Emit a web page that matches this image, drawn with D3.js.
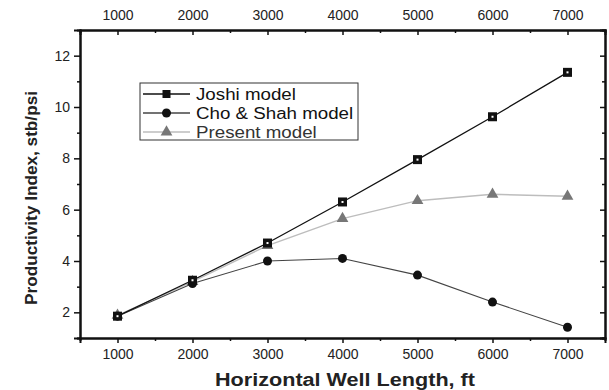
<!DOCTYPE html>
<html>
<head>
<meta charset="utf-8">
<script src="https://cdn.jsdelivr.net/npm/d3@7"></script>
<style>
  body { margin: 0; background: #fff; }
  text { font-family: "Liberation Sans", Arial, sans-serif; }
</style>
</head>
<body>
<div id="chart"></div>
<script>
// well lengths, ft
const lengths = [1000, 2000, 3000, 4000, 5000, 6000, 7000];
const joshi = [1.85, 3.25, 4.7, 6.3, 7.95, 9.62, 11.35];
const choShah = [1.85, 3.12, 4.0, 4.1, 3.45, 2.4, 1.42];
const present = [1.88, 3.2, 4.6, 5.65, 6.35, 6.6, 6.52];
const xTicks = [1000, 2000, 3000, 4000, 5000, 6000, 7000];
const yTicks = [2, 4, 6, 8, 10, 12];

const width = 609, height = 390;
const margin = { top: 30, right: 4, bottom: 52, left: 80 };

const svg = d3.select("#chart").append("svg")
    .attr("width", width)
    .attr("height", height);

const x = d3.scaleLinear().domain([500, 7500]).range([margin.left, width - margin.right]);
const y = d3.scaleLinear().domain([1, 13]).range([height - margin.bottom, margin.top]);

const minorX = d3.range(1500, 7500, 1000);
const minorY = d3.range(1, 13, 2);

// the scanned figure is a bit stretched sideways, widen text to match
const stretch = (sel, k) => sel.each(function () {
  const w = this.getComputedTextLength();
  d3.select(this).attr("textLength", w * k).attr("lengthAdjust", "spacingAndGlyphs");
});

// axes
const axBottom = svg.append("g")
    .attr("transform", `translate(0,${y.range()[0]})`)
    .call(d3.axisBottom(x).tickValues(xTicks).tickSize(5).tickPadding(6).tickFormat(d3.format("d")));
axBottom.append("g").call(d3.axisBottom(x).tickValues(minorX).tickSize(3).tickFormat(""));

const axTop = svg.append("g")
    .attr("transform", `translate(0,${y.range()[1]})`)
    .call(d3.axisTop(x).tickValues(xTicks).tickSize(-5).tickPadding(10).tickFormat(d3.format("d")));
axTop.append("g").call(d3.axisTop(x).tickValues(minorX).tickSize(-3).tickFormat(""));

const axLeft = svg.append("g")
    .attr("transform", `translate(${x.range()[0]},0)`)
    .call(d3.axisLeft(y).tickValues(yTicks).tickSize(6).tickPadding(4));
axLeft.append("g").call(d3.axisLeft(y).tickValues(minorY).tickSize(3).tickFormat(""));

const axRight = svg.append("g")
    .attr("transform", `translate(${x.range()[1]},0)`)
    .call(d3.axisRight(y).tickValues(yTicks).tickSize(-5).tickFormat(""));
axRight.append("g").call(d3.axisRight(y).tickValues(minorY).tickSize(-3).tickFormat(""));

svg.selectAll(".domain").attr("stroke", "#111").attr("stroke-width", 2);
svg.selectAll(".tick line").attr("stroke", "#111").attr("stroke-width", 1.5);
svg.selectAll(".tick text").attr("font-size", 14).attr("fill", "#222")
    .attr("font-family", "'Liberation Sans', Arial, sans-serif");

// lines
const line = vals => d3.line().x((d, i) => x(lengths[i])).y(d => y(d))(vals);

svg.append("path").attr("d", line(present))
    .attr("fill", "none").attr("stroke", "#bdbdbd").attr("stroke-width", 1.4);
svg.append("path").attr("d", line(choShah))
    .attr("fill", "none").attr("stroke", "#444").attr("stroke-width", 1.1);
svg.append("path").attr("d", line(joshi))
    .attr("fill", "none").attr("stroke", "#111").attr("stroke-width", 1.3);

const tri = d3.symbol().type(d3.symbolTriangle).size(60);

svg.append("g").selectAll("path").data(present).join("path")
    .attr("d", tri)
    .attr("transform", (d, i) => `translate(${x(lengths[i])},${y(d)})`)
    .attr("fill", "#777");

svg.append("g").selectAll("circle").data(choShah).join("circle")
    .attr("cx", (d, i) => x(lengths[i]))
    .attr("cy", d => y(d))
    .attr("r", 4.5)
    .attr("fill", "#111");

const sq = svg.append("g").selectAll("g").data(joshi).join("g")
    .attr("transform", (d, i) => `translate(${x(lengths[i])},${y(d)})`);
sq.append("rect").attr("x", -4.5).attr("y", -4.5).attr("width", 9).attr("height", 9).attr("fill", "#111");
sq.append("rect").attr("x", -1).attr("y", -1).attr("width", 2).attr("height", 2).attr("fill", "#fff");

// legend
const legend = svg.append("g").attr("transform", "translate(140,83)");
legend.append("rect").attr("width", 218).attr("height", 57)
    .attr("fill", "#fff").attr("stroke", "#333").attr("stroke-width", 1);

const items = [
  { label: "Joshi model", stroke: "#111", mark: "square" },
  { label: "Cho & Shah model", stroke: "#444", mark: "circle" },
  { label: "Present model", stroke: "#bdbdbd", mark: "triangle" }
];

items.forEach((it, i) => {
  const g = legend.append("g").attr("transform", `translate(0,${11 + i * 19})`);
  g.append("line").attr("x1", 3).attr("x2", 50).attr("stroke", it.stroke).attr("stroke-width", 1.3);
  if (it.mark === "square") {
    g.append("rect").attr("x", 22.5).attr("y", -4).attr("width", 8).attr("height", 8).attr("fill", "#111");
  } else if (it.mark === "circle") {
    g.append("circle").attr("cx", 26.5).attr("r", 4.5).attr("fill", "#111");
  } else {
    g.append("path").attr("d", tri).attr("transform", "translate(26.5,0)").attr("fill", "#777");
  }
  g.append("text").attr("x", 56).attr("dy", "0.35em")
    .attr("font-size", 16).attr("fill", it.mark === "triangle" ? "#333" : "#111")
    .text(it.label)
    .call(stretch, 1.17);
});

// axis titles
svg.append("text")
    .attr("x", 345)
    .attr("y", 386)
    .attr("text-anchor", "middle")
    .attr("font-size", 18).attr("font-weight", "bold").attr("fill", "#222")
    .text("Horizontal Well Length, ft")
    .attr("textLength", 260).attr("lengthAdjust", "spacingAndGlyphs");

svg.append("text")
    .attr("transform", `translate(37,198) rotate(-90)`)
    .attr("text-anchor", "middle")
    .attr("font-size", 17).attr("font-weight", "bold").attr("fill", "#222")
    .text("Productivity Index, stb/psi")
    .attr("textLength", 214).attr("lengthAdjust", "spacingAndGlyphs");
</script>
</body>
</html>
